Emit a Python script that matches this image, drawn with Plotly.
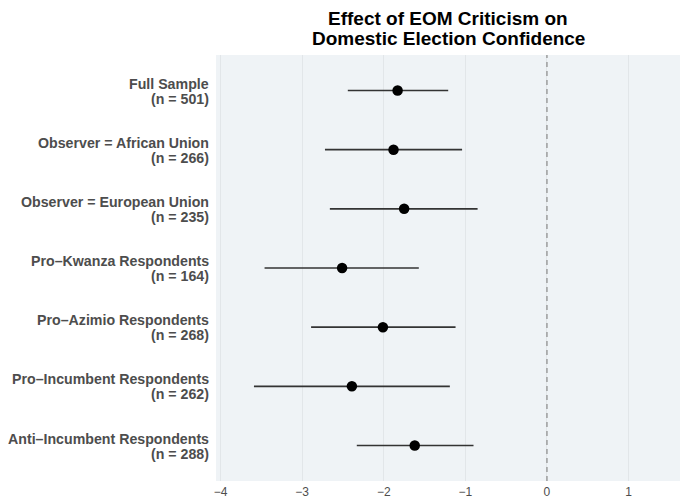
import plotly.graph_objects as go

group_names = [
    "Full Sample",
    "Observer = African Union",
    "Observer = European Union",
    "Pro\u2013Kwanza Respondents",
    "Pro\u2013Azimio Respondents",
    "Pro\u2013Incumbent Respondents",
    "Anti\u2013Incumbent Respondents",
]
group_n = [501, 266, 235, 164, 268, 262, 288]
estimates = [-1.83, -1.88, -1.75, -2.51, -2.01, -2.39, -1.62]
ci_low = [-2.44, -2.72, -2.66, -3.46, -2.89, -3.59, -2.33]
ci_high = [-1.21, -1.04, -0.85, -1.57, -1.12, -1.19, -0.90]
x_ticks = [-4, -3, -2, -1, 0, 1]
title_lines = ["Effect of EOM Criticism on", "Domestic Election Confidence"]

err_plus = [h - e for h, e in zip(ci_high, estimates)]
err_minus = [e - l for e, l in zip(estimates, ci_low)]

font_family = "Liberation Sans, Arial, Helvetica, sans-serif"

fig = go.Figure()
fig.add_trace(go.Scatter(
    x=estimates, y=group_names, mode="markers",
    marker=dict(color="black", size=10.5),
    error_x=dict(type="data", symmetric=False, array=err_plus, arrayminus=err_minus,
                 color="#333333", thickness=1.6, width=0),
    showlegend=False, hoverinfo="skip",
))

fig.add_shape(type="line", xref="x", yref="paper", x0=0, x1=0, y0=0, y1=1,
              line=dict(color="#8a8a8a", width=1.2, dash="5px,4px"), layer="above")

annotations = []
for name, n in zip(group_names, group_n):
    annotations.append(dict(
        text="<b>" + name + "</b>", xref="paper", x=0, yref="y", y=name,
        xanchor="right", yanchor="middle", xshift=-5, yshift=7, showarrow=False,
        font=dict(size=14.2, color="#4D4D4D", family=font_family)))
    annotations.append(dict(
        text="<b>(n = " + str(n) + ")</b>", xref="paper", x=0, yref="y", y=name,
        xanchor="right", yanchor="middle", xshift=-5, yshift=-8, showarrow=False,
        font=dict(size=14.2, color="#4D4D4D", family=font_family)))

for line, yp in zip(title_lines, [1.0857, 1.0387]):
    annotations.append(dict(
        text="<b>" + line + "</b>", xref="paper", x=0.5, yref="paper", y=yp,
        xanchor="center", yanchor="middle", showarrow=False,
        font=dict(size=19, color="black", family=font_family)))

fig.update_layout(
    width=680, height=498,
    margin=dict(l=216, r=0, t=55, b=17),
    paper_bgcolor="white",
    plot_bgcolor="#EFF3F6",
    font=dict(family=font_family),
    annotations=annotations,
    xaxis=dict(
        range=[-4.055, 1.63], tickvals=x_ticks,
        ticktext=[("\u2212" + str(abs(v))) if v < 0 else str(v) for v in x_ticks],
        showgrid=True, gridcolor="#E2E6E9", gridwidth=1,
        zeroline=False, showline=False, ticks="",
        tickfont=dict(size=12, color="#4D4D4D"),
        ticklabelstandoff=2, automargin=False,
    ),
    yaxis=dict(
        categoryorder="array", categoryarray=group_names,
        range=[6.6, -0.6], showgrid=False, zeroline=False, showline=False, ticks="",
        showticklabels=False, automargin=False,
    ),
)

fig.write_html("out.html", config={"displayModeBar": False},
               post_script="document.body.style.margin='0';document.body.style.overflow='hidden';")
